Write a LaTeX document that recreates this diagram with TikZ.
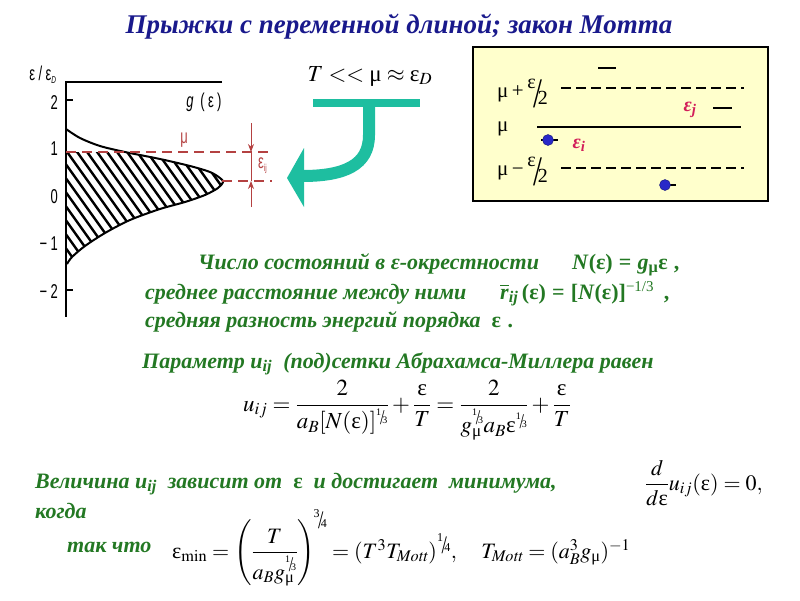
\documentclass[tikz,border=0pt]{standalone}
\usepackage{amsmath}
\usepackage{mathptmx}
\usepackage{fontspec}
\setmainfont{Liberation Serif}
\newfontfamily\plotfont{Liberation Sans}[FakeStretch=0.65]
\usetikzlibrary{arrows.meta}

\definecolor{titleblue}{RGB}{25,25,140}
\definecolor{textgreen}{RGB}{35,120,35}
\definecolor{levelred}{RGB}{180,65,65}
\definecolor{arrowteal}{RGB}{30,190,160}
\definecolor{boxyellow}{RGB}{255,255,204}
\definecolor{dotblue}{RGB}{40,40,200}
\definecolor{epsred}{RGB}{210,30,90}

\newcommand{\eps}{\text{\normalfont ε}}
\newcommand{\mup}{\text{\normalfont μ}}
\newcommand{\slfrac}[3][9]{\mbox{\normalfont\fontsize{#1}{#1}\selectfont\raisebox{0.7em}{#2}\kern-0.12em\raisebox{-0.25em}{\scalebox{1.6}[2.1]{/}}\kern-0.22em\raisebox{-0.1em}{#3}}}

\begin{document}
\begin{tikzpicture}[x=1pt,y=-1pt,
  axis/.style={line width=2.6pt},
  levelline/.style={levelred, line width=2.6pt, dash pattern=on 10pt off 6pt},
  hatchline/.style={line width=2.4pt},
  plotlabel/.style={font=\plotfont\fontsize{20}{22}\selectfont, inner sep=0pt},
  greentext/.style={textgreen, font=\fontsize{22}{26}\selectfont\bfseries\itshape, anchor=base west, inner sep=0pt},
  greenmath/.style={textgreen, font=\fontsize{22}{26}\selectfont\bfseries, anchor=base west, inner sep=0pt},
  mathtext/.style={font=\fontsize{22}{26}\selectfont, inner sep=0pt},
  boxlabel/.style={font=\fontsize{21}{24}\selectfont, inner sep=0pt, anchor=base west},
  levelbar/.style={line width=2pt},
  dashlevel/.style={line width=2pt, dash pattern=on 10pt off 5pt},
  electron/.style={circle, fill=dotblue, draw=dotblue!60!black, minimum size=11pt, inner sep=0pt}
  ]

	\useasboundingbox (0,0) rectangle (800,600);

	\node [titleblue, font=\fontsize{27}{30}\selectfont\bfseries\itshape, anchor=base] (title) at (399,33){Прыжки с переменной длиной; закон Мотта};

%density of states plot
	\coordinate [] (O) at (66,82);
	\coordinate [] (X) at (222,82);
	\coordinate [] (Y) at (66,317);

	\begin{scope}
	\clip (66,152) rectangle (230,270);
	\clip plot[smooth] coordinates {(66,129) (80,138) (100,146) (125,152) (160,159) (190,166) (210,172) (220,178) (223,182) (218,188) (205,195) (185,202) (160,209) (130,220) (105,233) (85,246) (72,257) (67,264)} -- cycle;
	\foreach \s in {-90,-80,...,200}
		\draw [hatchline] (\s,100) -- ++(120,168);
	\end{scope}
	\draw [line width=2pt] plot[smooth] coordinates {(66,129) (80,138) (100,146) (125,152) (160,159) (190,166) (210,172) (220,178) (223,182) (218,188) (205,195) (185,202) (160,209) (130,220) (105,233) (85,246) (72,257) (67,264)};

	\draw [axis] (X) -- (O) -- (Y);
	\draw [axis] (66,100) -- (73,100);
	\draw [axis] (66,290) -- (73,290);
	\foreach \lab/\y [count=\i] in {2/103, 1/149, 0/197, −\,1/244, −\,2/292}
		\node [plotlabel, anchor=east] (tick\i) at (58,\y){\lab};
	\node [plotlabel] (yname) at (43,75){ε\,/\,ε\textsubscript{\fontsize{10}{10}\selectfont\itshape D}};
	\node [plotlabel] (gname) at (204,102){\textit{g}\,\,(\,ε\,)};

%levels mu and mu - eps
	\coordinate [] (muL) at (66,152);
	\coordinate [] (muR) at (272,152);
	\coordinate [] (tipL) at (222,181);
	\coordinate [] (tipR) at (272,181);
	\draw [levelline] (muL) -- (muR);
	\draw [levelline] (tipL) -- (tipR);
	\node [plotlabel, levelred] (mulabel) at (184,140){μ};

	\coordinate [] (EA) at (251,123);
	\coordinate [] (EB) at (251,152);
	\coordinate [] (EC) at (251,181);
	\coordinate [] (ED) at (251,207);
	\draw [levelred, thick, -{Stealth[length=8pt,width=6pt]}] (EA) -- (EB);
	\draw [levelred, thick] (EB) -- (EC);
	\draw [levelred, thick, -{Stealth[length=8pt,width=6pt]}] (ED) -- (EC);
	\node [plotlabel, levelred, anchor=west] (epsij) at (258,166){ε\textsubscript{\fontsize{10}{10}\selectfont ij}};

%condition and turning arrow
	\node [mathtext, font=\fontsize{23}{26}\selectfont] (cond) at (370,76){$T << \mup \approx \eps_D$};
	\fill [arrowteal] (313,99) rectangle (420,107);
	\draw [arrowteal, line width=12pt] (369,105) -- (369,135) .. controls (369,165) and (345,176) .. (302,176);
	\fill [arrowteal] (304,148) -- (287,178) -- (304,207) -- cycle;

%energy levels box
	\draw [fill=boxyellow, line width=1.2pt] (473,47) rectangle (768,201);
	\draw [levelbar] (598,68) -- (616,68);
	\node [boxlabel] (upper) at (497,97){μ\,+\,\raisebox{-5pt}{\slfrac[20]{ε}{2}}};
	\draw [dashlevel] (561,88) -- (744,88);
	\node [epsred, font=\fontsize{20}{22}\selectfont\bfseries\itshape, inner sep=0pt] (epsj) at (690,110){ε\textsubscript{j}};
	\draw [levelbar] (713,108) -- (732,108);
	\node [boxlabel] (middle) at (497,131){μ};
	\draw [levelbar] (537,127) -- (741,127);
	\draw [levelbar] (541,140) -- (558,140);
	\node [electron] (dotA) at (548,140){};
	\node [epsred, font=\fontsize{20}{22}\selectfont\bfseries\itshape, inner sep=0pt] (epsi) at (579,145){ε\textsubscript{i}};
	\node [boxlabel] (lower) at (497,175){μ\,−\,\raisebox{-5pt}{\slfrac[20]{ε}{2}}};
	\draw [dashlevel] (561,168) -- (744,168);
	\draw [levelbar] (660,185) -- (676,185);
	\node [electron] (dotB) at (665,185){};

%text lines
	\node [greentext] (line1) at (198,269){Число состояний в ε-окрестности};
	\node [greenmath] (nform) at (572,269){\textit{N}(ε)\;=\;\textit{g}\textsubscript{μ}ε\;,};
	\node [greentext] (line2) at (145,299){среднее расстояние между ними};
	\node [greenmath] (rform) at (500,299){$\overline{\text{\itshape r}}$\textsubscript{\itshape ij}\,(ε)\;=\;[\textit{N}(ε)]\textsuperscript{\mdseries\fontsize{15}{15}\selectfont −1/3}\;\,,};
	\node [greentext] (line3) at (145,327){средняя разность энергий порядка\ \ \textup{ε}\,\,.};
	\node [greentext] (line4) at (142,368){Параметр \textit{u}\textsubscript{\textit{ij}}\ \ (под)сетки Абрахамса-Миллера равен};

	\node [mathtext, font=\fontsize{23}{27}\selectfont] (ueq) at (407,410){$u_{ij} = \dfrac{2}{a_B[N(\eps)]^{\slfrac[10]{1}{3}}} + \dfrac{\eps}{T} = \dfrac{2}{g_{\mup}^{\slfrac[10]{1}{3}} a_B \eps^{\slfrac[10]{1}{3}}} + \dfrac{\eps}{T}$};

	\node [greentext] (line5) at (35,488){Величина \textit{u}\textsubscript{\textit{ij}}\ \ зависит от\ \ \textup{ε}\ \ и достигает\ \ минимума,};
	\node [mathtext, anchor=west] (deriv) at (645,483){$\dfrac{d}{d\eps}u_{ij}(\eps) = 0,$};
	\node [greentext] (line6) at (35,518){когда};
	\node [greentext] (line7) at (67,552){так что};
	\node [mathtext, anchor=west] (epsmin) at (172,548){$\eps_{\min} = \left(\dfrac{T}{a_B g_{\mup}^{\slfrac[10]{1}{3}}}\right)^{\!\slfrac[12]{3}{4}} = (T^3 T_{\mathit{Mott}})^{\slfrac[12]{1}{4}},\quad T_{\mathit{Mott}} = (a_B^3 g_{\mup})^{-1}$};

\end{tikzpicture}
\end{document}
